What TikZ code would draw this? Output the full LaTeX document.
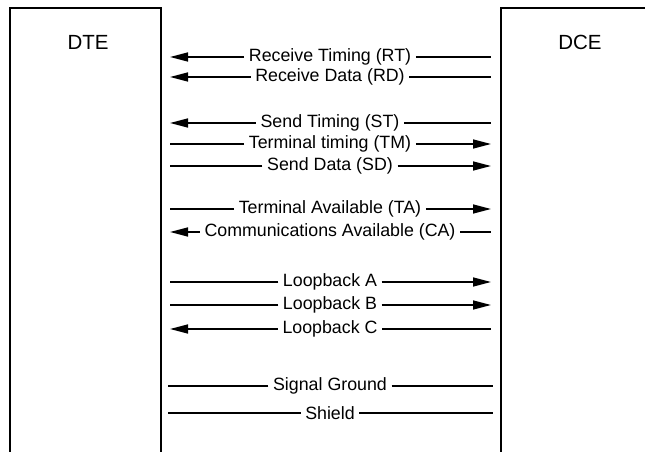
\documentclass[tikz,border=0pt]{standalone}
\usepackage{fontspec}
\setmainfont{Liberation Sans}
\usetikzlibrary{arrows.meta}
\begin{document}
\begin{tikzpicture}[x=1bp,y=-1bp,
  boxline/.style={line width=1.5bp},
  wire/.style={line width=1.5bp},
  tip/.style={-{Triangle[length=18bp,width=9bp]}},
  sig/.style={font=\fontsize{17.8bp}{21bp}\selectfont, inner xsep=4.5bp, inner ysep=0pt},
  title/.style={font=\fontsize{20.5bp}{24bp}\selectfont, inner sep=0pt}]
\useasboundingbox (0,0) rectangle (645,452);
% boxes
\draw[boxline] (10,452) -- (10,8) -- (161,8) -- (161,452);
\draw[boxline] (645,8) -- (501,8) -- (501,452);
\node[title] (dte) at (88,42) {DTE};
\node[title] (dce) at (580,42) {DCE};
% end coordinates
\foreach \n/\y in {rt/57,rd/77,st/123,tm/144,sd/166,ta/209,ca/232,la/282,lb/305,lc/329}{
  \coordinate (\n L) at (170,\y);
  \coordinate (\n R) at (491,\y);
}
\coordinate (sgL) at (168,386); \coordinate (sgR) at (493,386);
\coordinate (shL) at (168,413); \coordinate (shR) at (493,413);
% labels
\node[sig] (rt) at (330,57) {Receive Timing (RT)};
\node[sig] (rd) at (330,77) {Receive Data (RD)};
\node[sig] (st) at (330,123) {Send Timing (ST)};
\node[sig] (tm) at (330,144) {Terminal timing (TM)};
\node[sig] (sd) at (330,166) {Send Data (SD)};
\node[sig] (ta) at (330,209) {Terminal Available (TA)};
\node[sig] (ca) at (330,232) {Communications Available (CA)};
\node[sig] (la) at (330,282) {Loopback A};
\node[sig] (lb) at (330,305) {Loopback B};
\node[sig] (lc) at (330,329) {Loopback C};
\node[sig] (sg) at (330,386) {Signal Ground};
\node[sig] (sh) at (330,413) {Shield};
% toward DTE
\foreach \n in {rt,rd,st,ca,lc}{
  \draw[wire,tip] (\n.west) -- (\n L);
  \draw[wire] (\n.east) -- (\n R);
}
% toward DCE
\foreach \n in {tm,sd,ta,la,lb}{
  \draw[wire] (\n.west) -- (\n L);
  \draw[wire,tip] (\n.east) -- (\n R);
}
% no direction
\foreach \n in {sg,sh}{
  \draw[wire] (\n.west) -- (\n L);
  \draw[wire] (\n.east) -- (\n R);
}
\end{tikzpicture}
\end{document}
